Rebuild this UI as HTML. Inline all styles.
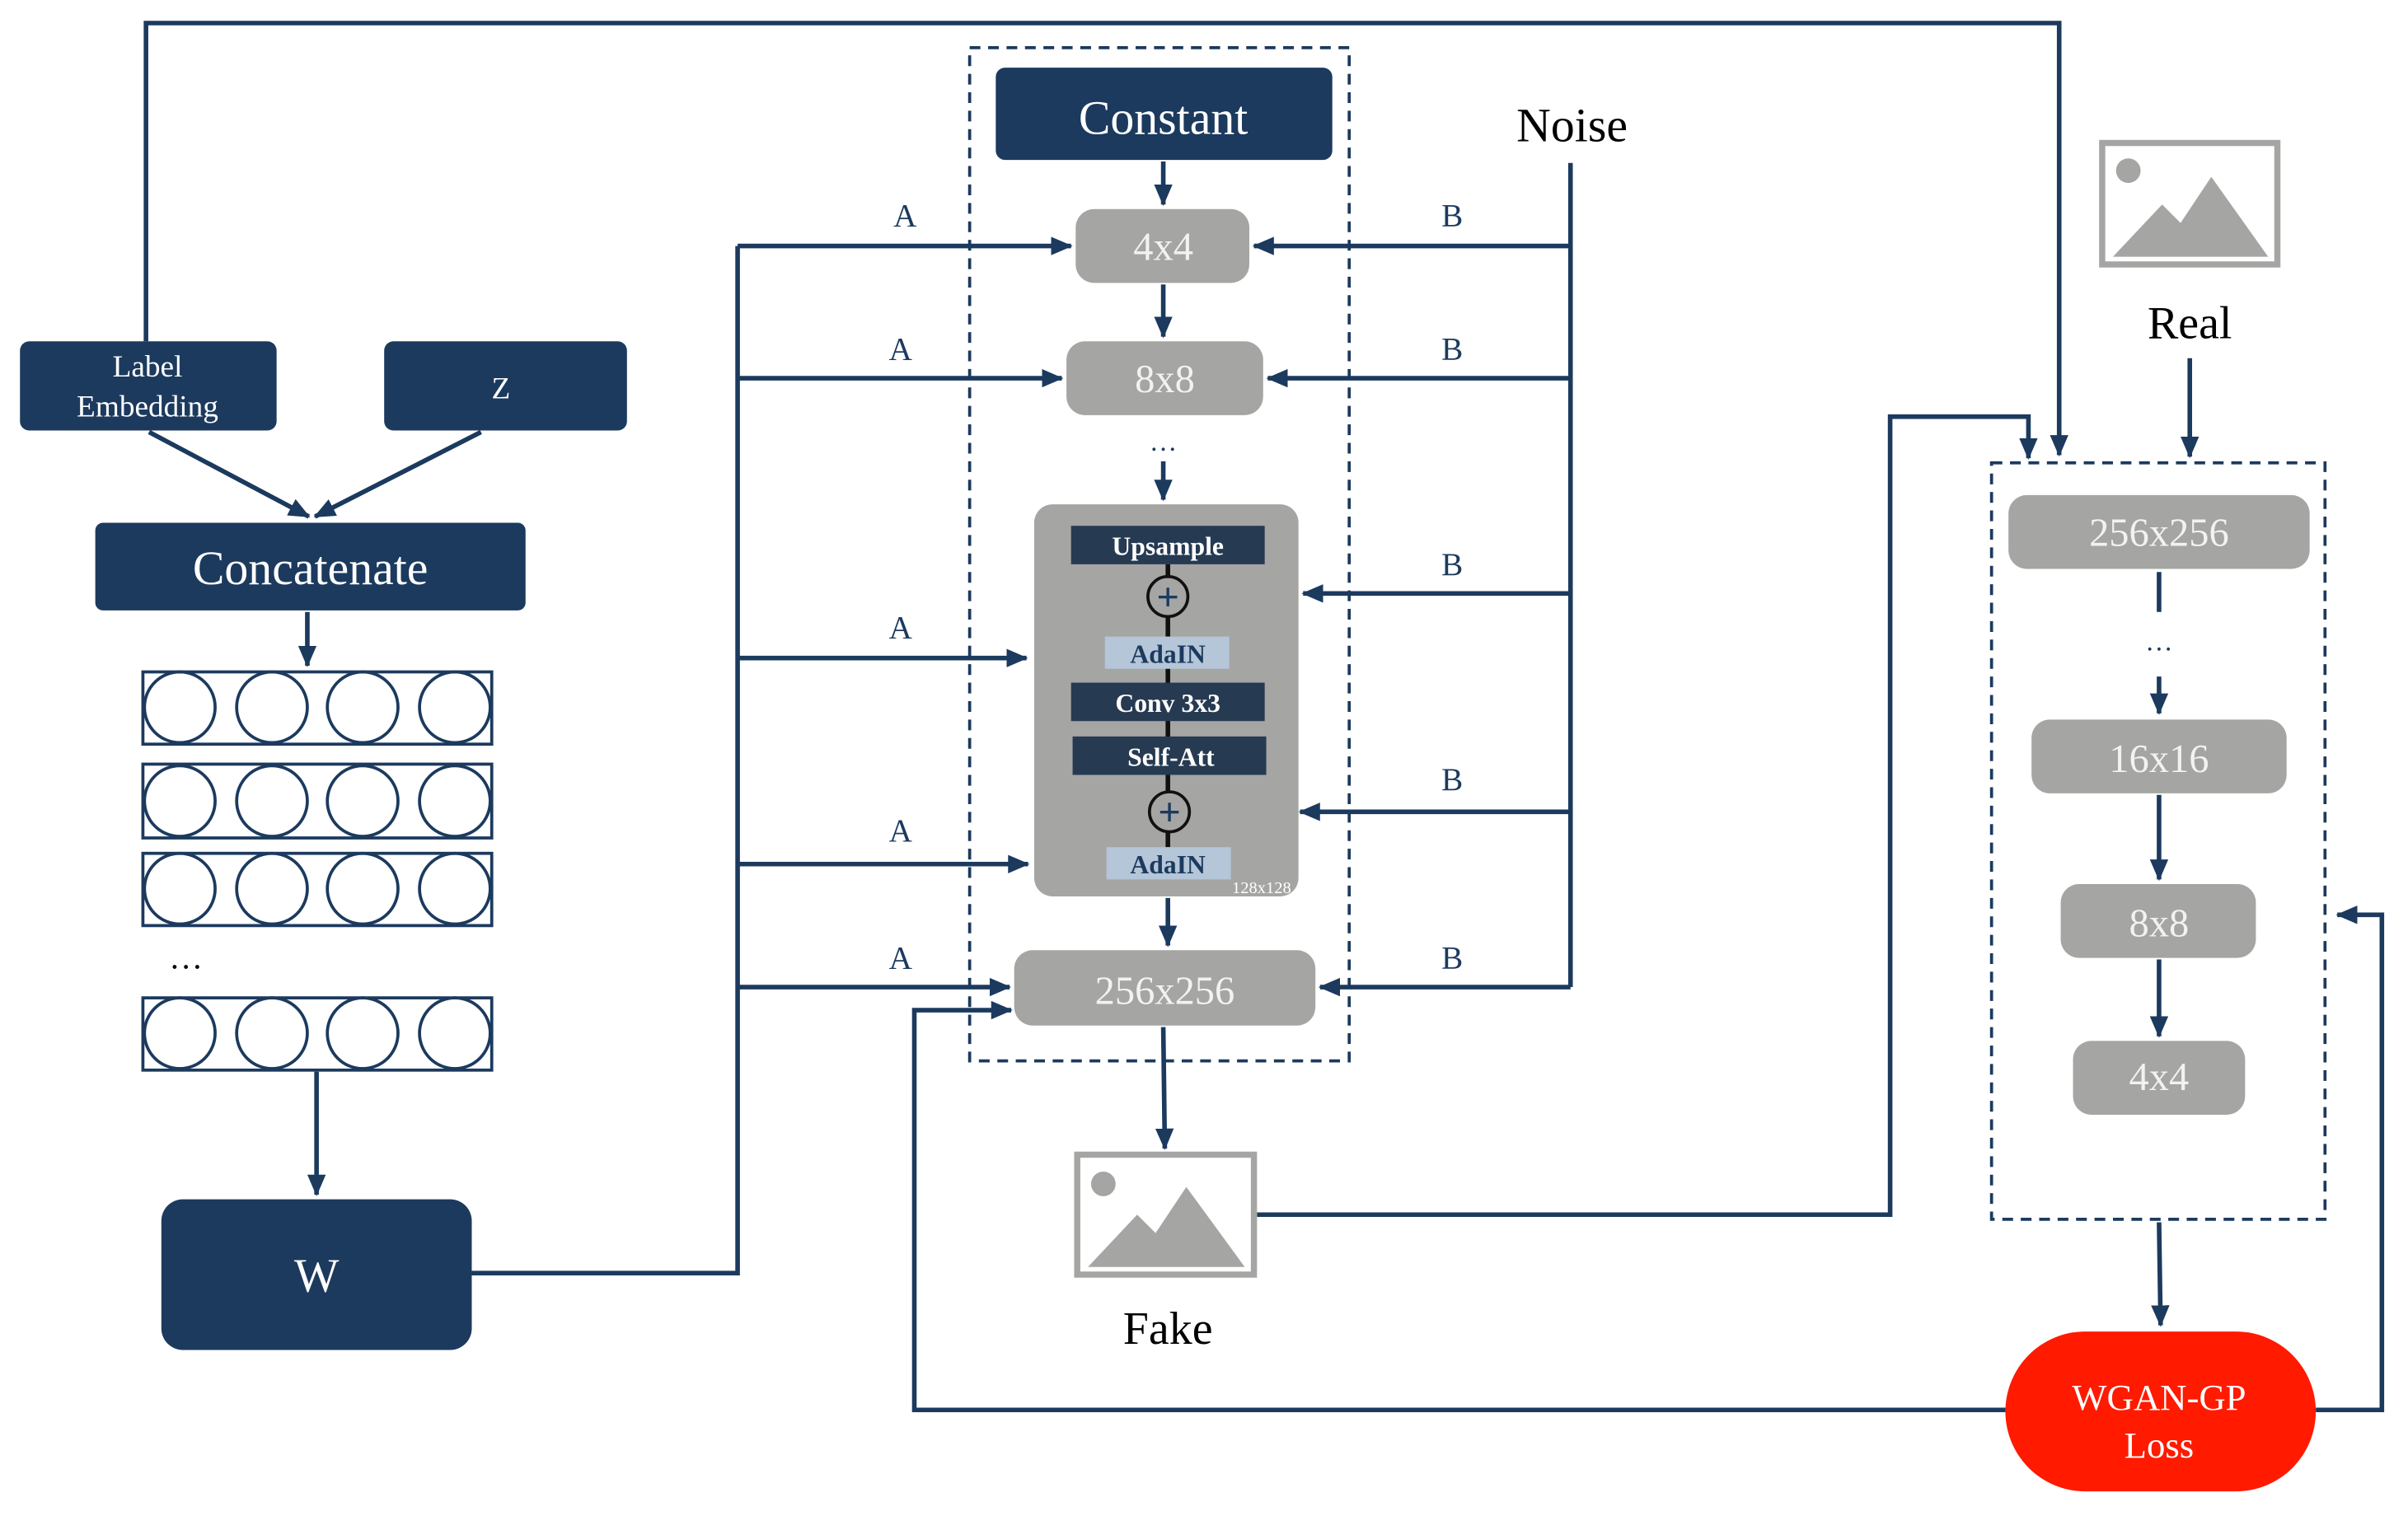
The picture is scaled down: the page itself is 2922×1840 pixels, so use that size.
<!DOCTYPE html>
<html><head><meta charset="utf-8"><style>html,body{margin:0;padding:0;background:#fff}svg{display:block}</style></head>
<body>
<svg width="2922" height="1840" viewBox="0 0 1567 986" preserveAspectRatio="none" xmlns="http://www.w3.org/2000/svg" font-family="'Liberation Serif', serif">
<defs>
<marker id="ar2" markerWidth="14" markerHeight="12" refX="13" refY="6" orient="auto" markerUnits="userSpaceOnUse"><path d="M0,0 L14,6 L0,12 z" fill="#1c3a5e"/></marker>
</defs>
<g stroke="#1c3a5e" stroke-width="3" fill="none">
<polyline points="95,222 95,15 1340,15 1340,296" marker-end="url(#ar2)"/>
<line x1="97" y1="281" x2="201" y2="336" marker-end="url(#ar2)"/>
<line x1="313" y1="281" x2="205" y2="336" marker-end="url(#ar2)"/>
<line x1="200" y1="398" x2="200" y2="433" marker-end="url(#ar2)"/>
<line x1="206" y1="697" x2="206" y2="777" marker-end="url(#ar2)"/>
<polyline points="307,828 480,828 480,160"/>
<line x1="480" y1="160" x2="697" y2="160" marker-end="url(#ar2)"/>
<line x1="480" y1="246" x2="691" y2="246" marker-end="url(#ar2)"/>
<line x1="480" y1="428" x2="668" y2="428" marker-end="url(#ar2)"/>
<line x1="480" y1="562" x2="669" y2="562" marker-end="url(#ar2)"/>
<line x1="480" y1="642" x2="657" y2="642" marker-end="url(#ar2)"/>
<polyline points="1022,106 1022,642"/>
<line x1="1022" y1="160" x2="816" y2="160" marker-end="url(#ar2)"/>
<line x1="1022" y1="246" x2="825" y2="246" marker-end="url(#ar2)"/>
<line x1="1022" y1="386" x2="848" y2="386" marker-end="url(#ar2)"/>
<line x1="1022" y1="528" x2="846" y2="528" marker-end="url(#ar2)"/>
<line x1="1022" y1="642" x2="859" y2="642" marker-end="url(#ar2)"/>
<line x1="757" y1="105" x2="757" y2="133" marker-end="url(#ar2)"/>
<line x1="757" y1="185" x2="757" y2="219" marker-end="url(#ar2)"/>
<line x1="757" y1="300" x2="757" y2="325" marker-end="url(#ar2)"/>
<line x1="760" y1="584" x2="760" y2="615" marker-end="url(#ar2)"/>
<line x1="757" y1="668" x2="758" y2="747" marker-end="url(#ar2)"/>
<polyline points="818,790 1230,790 1230,271 1320,271 1320,298" marker-end="url(#ar2)"/>
<line x1="1425" y1="233" x2="1425" y2="297" marker-end="url(#ar2)"/>
<line x1="1405" y1="372" x2="1405" y2="398"/>
<line x1="1405" y1="440" x2="1405" y2="464" marker-end="url(#ar2)"/>
<line x1="1405" y1="517" x2="1405" y2="572" marker-end="url(#ar2)"/>
<line x1="1405" y1="624" x2="1405" y2="674" marker-end="url(#ar2)"/>
<line x1="1405" y1="795" x2="1406" y2="862" marker-end="url(#ar2)"/>
<polyline points="1305,917 595,917 595,657 658,657" marker-end="url(#ar2)"/>
<polyline points="1507,917 1550,917 1550,595 1521,595" marker-end="url(#ar2)"/>
</g>
<rect x="631" y="31" width="247" height="659" fill="none" stroke="#1c3a5e" stroke-width="2" stroke-dasharray="7,5"/>
<rect x="1296" y="301" width="217" height="492" fill="none" stroke="#1c3a5e" stroke-width="2" stroke-dasharray="7,5"/>
<g fill="#1c3a5e">
<rect x="13" y="222" width="167" height="58" rx="6"/>
<rect x="250" y="222" width="158" height="58" rx="6"/>
<rect x="62" y="340" width="280" height="57" rx="5"/>
<rect x="105" y="780" width="202" height="98" rx="14"/>
<rect x="648" y="44" width="219" height="60" rx="6"/>
</g>
<g fill="#fff" text-anchor="middle">
<text x="96" y="245" font-size="20">Label</text>
<text x="96" y="271" font-size="20">Embedding</text>
<text x="326" y="259" font-size="20">Z</text>
<text x="202" y="380" font-size="31">Concatenate</text>
<text x="206" y="840" font-size="31">W</text>
<text x="757" y="87" font-size="31">Constant</text>
</g>
<g fill="none" stroke="#1c3a5e" stroke-width="2">
<rect x="93" y="437" width="227" height="47"/><rect x="93" y="497" width="227" height="48"/><rect x="93" y="555" width="227" height="47"/><rect x="93" y="649" width="227" height="47"/>
<circle cx="117" cy="460" r="23"/><circle cx="177" cy="460" r="23"/><circle cx="236" cy="460" r="23"/><circle cx="296" cy="460" r="23"/>
<circle cx="117" cy="521" r="23"/><circle cx="177" cy="521" r="23"/><circle cx="236" cy="521" r="23"/><circle cx="296" cy="521" r="23"/>
<circle cx="117" cy="578" r="23"/><circle cx="177" cy="578" r="23"/><circle cx="236" cy="578" r="23"/><circle cx="296" cy="578" r="23"/>
<circle cx="117" cy="672" r="23"/><circle cx="177" cy="672" r="23"/><circle cx="236" cy="672" r="23"/><circle cx="296" cy="672" r="23"/>
</g>
<text x="121" y="630" font-size="22" text-anchor="middle">…</text>
<g fill="#a5a5a3">
<rect x="700" y="136" width="113" height="48" rx="12"/>
<rect x="694" y="222" width="128" height="48" rx="12"/>
<rect x="673" y="328" width="172" height="255" rx="12"/>
<rect x="660" y="618" width="196" height="49" rx="12"/>
<rect x="1307" y="322" width="196" height="48" rx="12"/>
<rect x="1322" y="468" width="166" height="48" rx="12"/>
<rect x="1341" y="575" width="127" height="48" rx="12"/>
<rect x="1349" y="677" width="112" height="48" rx="12"/>
</g>
<g fill="#f2f2f2" text-anchor="middle" font-size="26">
<text x="757" y="169">4x4</text>
<text x="758" y="255">8x8</text>
<text x="758" y="653">256x256</text>
<text x="1405" y="355">256x256</text>
<text x="1405" y="502">16x16</text>
<text x="1405" y="609">8x8</text>
<text x="1405" y="709">4x4</text>
</g>
<text x="757" y="293" font-size="18" text-anchor="middle" fill="#1c3a5e">…</text>
<text x="1405" y="423" font-size="18" text-anchor="middle" fill="#1c3a5e">…</text>
<line x1="760" y1="367" x2="760" y2="551" stroke="#111" stroke-width="3"/>
<g fill="#263a52">
<rect x="697" y="342" width="126" height="25"/>
<rect x="697" y="444" width="126" height="25"/>
<rect x="698" y="479" width="126" height="25"/>
</g>
<g fill="#b4c6d8"><rect x="719" y="414" width="81" height="21"/><rect x="720" y="551" width="81" height="21"/></g>
<g fill="#a5a5a3" stroke="#111" stroke-width="2"><circle cx="760" cy="388" r="13"/><circle cx="761" cy="528" r="13"/></g>
<g fill="#1c3a5e" font-size="26" font-weight="bold" text-anchor="middle"><text x="760" y="397">+</text><text x="761" y="537">+</text></g>
<g fill="#fff" font-weight="bold" font-size="17" text-anchor="middle">
<text x="760" y="361">Upsample</text><text x="760" y="463">Conv 3x3</text><text x="762" y="498">Self-Att</text>
</g>
<g fill="#1c3a5e" font-weight="bold" font-size="17" text-anchor="middle"><text x="760" y="431">AdaIN</text><text x="760" y="568">AdaIN</text></g>
<text x="821" y="581" font-size="11" fill="#fff" text-anchor="middle">128x128</text>
<g font-size="21" fill="#1c3a5e" text-anchor="middle">
<text x="589" y="147">A</text><text x="586" y="234">A</text><text x="586" y="415">A</text><text x="586" y="547">A</text><text x="586" y="630">A</text>
<text x="945" y="147">B</text><text x="945" y="234">B</text><text x="945" y="374">B</text><text x="945" y="514">B</text><text x="945" y="630">B</text>
</g>
<text x="1023" y="92" font-size="31" text-anchor="middle">Noise</text>
<text x="760" y="874" font-size="30" text-anchor="middle">Fake</text>
<text x="1425" y="220" font-size="30" text-anchor="middle">Real</text>
<g>
<rect x="701" y="751" width="115" height="78" fill="#fff" stroke="#a5a5a3" stroke-width="4"/>
<circle cx="718" cy="770" r="8" fill="#a5a5a3"/>
<path d="M708,824 L740,790 L752,802 L772,772 L810,824 z" fill="#a5a5a3"/>
<rect x="1368" y="93" width="114" height="79" fill="#fff" stroke="#a5a5a3" stroke-width="4"/>
<circle cx="1385" cy="111" r="8" fill="#a5a5a3"/>
<path d="M1375,167 L1407,133 L1419,145 L1439,115 L1476,167 z" fill="#a5a5a3"/>
</g>
<rect x="1305" y="866" width="202" height="104" rx="52" fill="#ff1a00"/>
<text x="1405" y="917" font-size="24" fill="#fff" text-anchor="middle">WGAN-GP</text>
<text x="1405" y="948" font-size="24" fill="#fff" text-anchor="middle">Loss</text>
</svg>
</body></html>
